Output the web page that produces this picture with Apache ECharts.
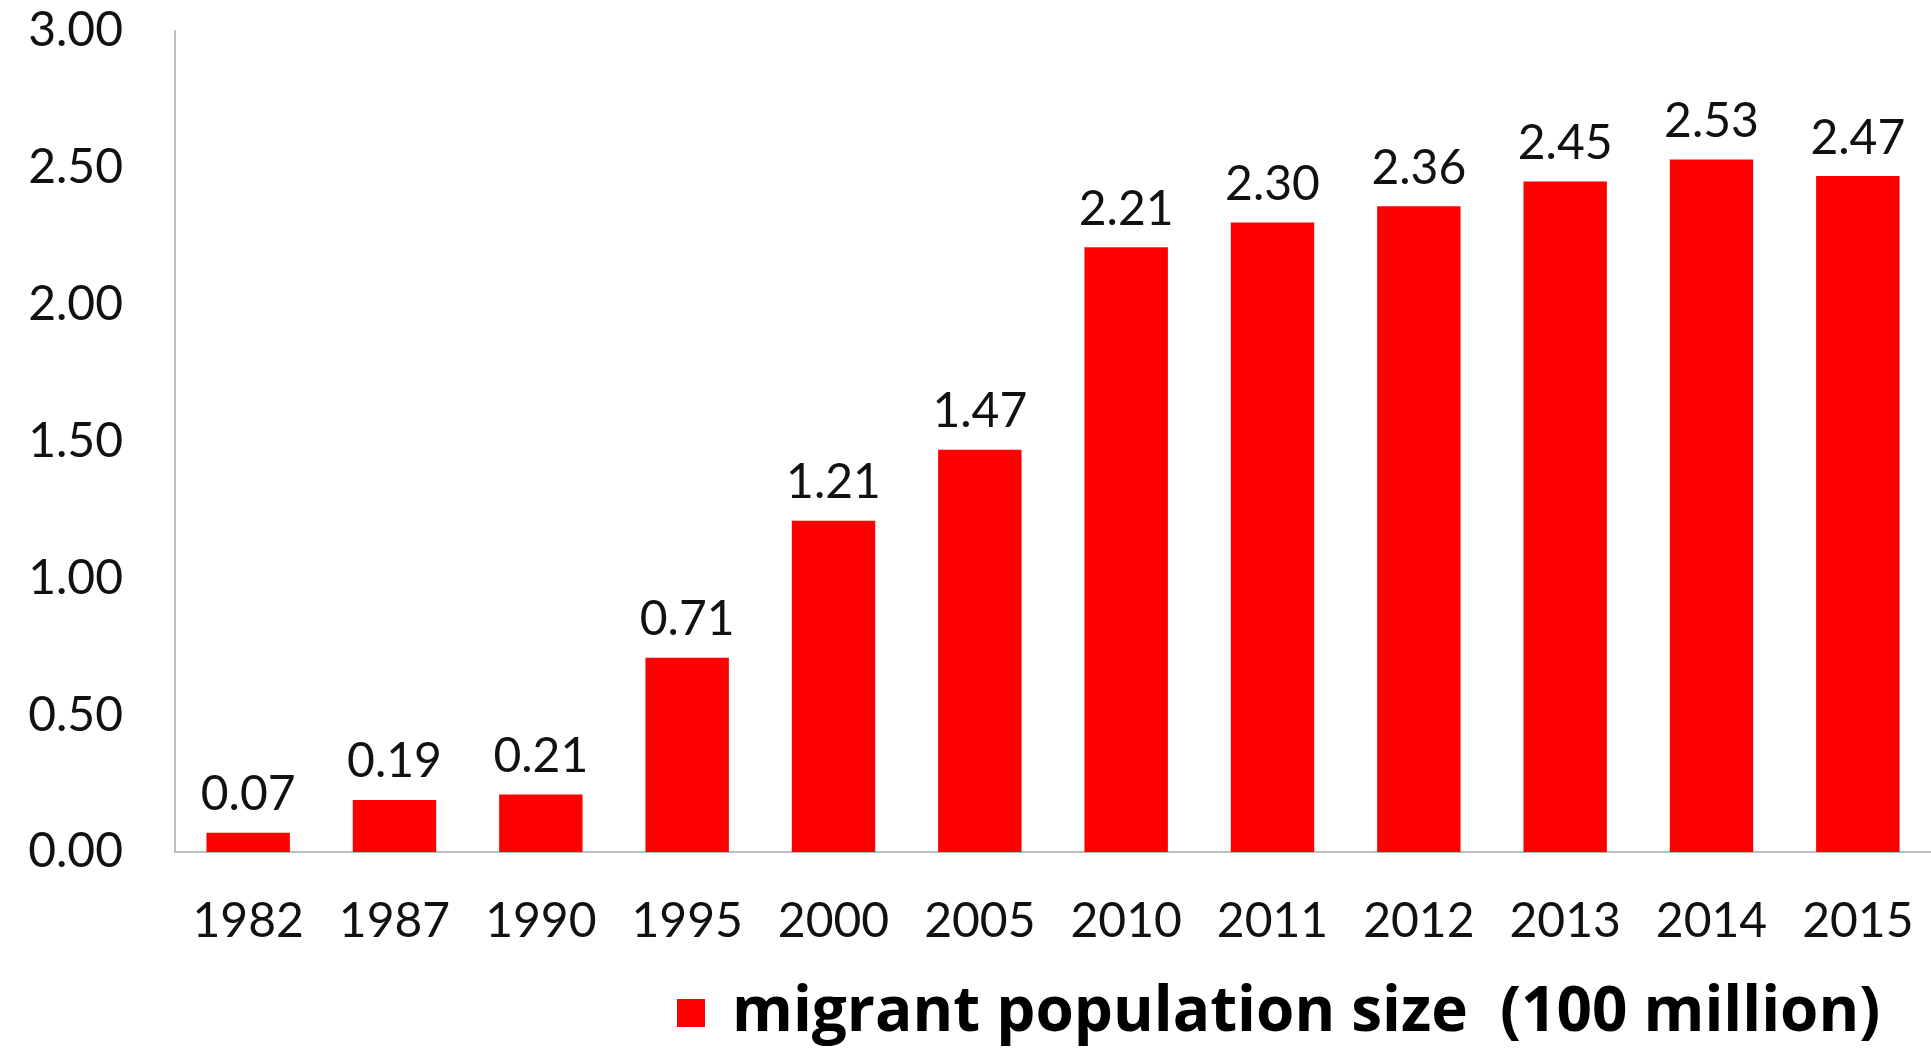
<!DOCTYPE html>
<html>
<head>
<meta charset="utf-8">
<script src="https://cdn.jsdelivr.net/npm/echarts@6/dist/echarts.min.js"></script>
<style>
html,body{margin:0;padding:0;background:#fff;}
#chart{width:1931px;height:1048px;}
</style>
</head>
<body>
<div id="chart"></div>
<script>
const categories = ['1982','1987','1990','1995','2000','2005','2010','2011','2012','2013','2014','2015'];
const values = [0.07, 0.19, 0.21, 0.71, 1.21, 1.47, 2.21, 2.30, 2.36, 2.45, 2.53, 2.47];
const seriesName = 'migrant population size  (100 million)';

const chart = echarts.init(document.getElementById('chart'));
chart.setOption({
  animation: false,
  backgroundColor: '#ffffff',
  grid: { left: 175, right: 0, top: 31, bottom: 196, containLabel: false },
  legend: {
    data: [seriesName],
    left: 672,
    top: 977,
    itemWidth: 28,
    itemHeight: 28,
    itemGap: 10,
    icon: 'rect',
    textStyle: { fontFamily: 'Open Sans', fontWeight: 'bold', fontSize: 62, color: '#000', padding: [0, 0, 0, 22] }
  },
  xAxis: {
    type: 'category',
    data: categories,
    axisLine: { show: true, lineStyle: { color: '#BDBDBD', width: 2 } },
    axisTick: { show: false },
    axisLabel: { color: '#111', fontFamily: 'Lato', fontSize: 48, margin: 46 }
  },
  yAxis: {
    type: 'value',
    min: 0, max: 3, interval: 0.5,
    splitLine: { show: false },
    axisLine: { show: true, lineStyle: { color: '#BDBDBD', width: 2 } },
    axisTick: { show: false },
    axisLabel: {
      color: '#111', fontFamily: 'Lato', fontSize: 48, margin: 52,
      formatter: v => v.toFixed(2)
    }
  },
  series: [{
    name: seriesName,
    type: 'bar',
    data: values,
    barCategoryGap: '43%',
    itemStyle: { color: '#FF0000' },
    label: {
      show: true, position: 'top', distance: 14,
      color: '#111', fontFamily: 'Lato', fontSize: 48,
      formatter: p => p.value.toFixed(2)
    }
  }]
});
</script>
</body>
</html>
